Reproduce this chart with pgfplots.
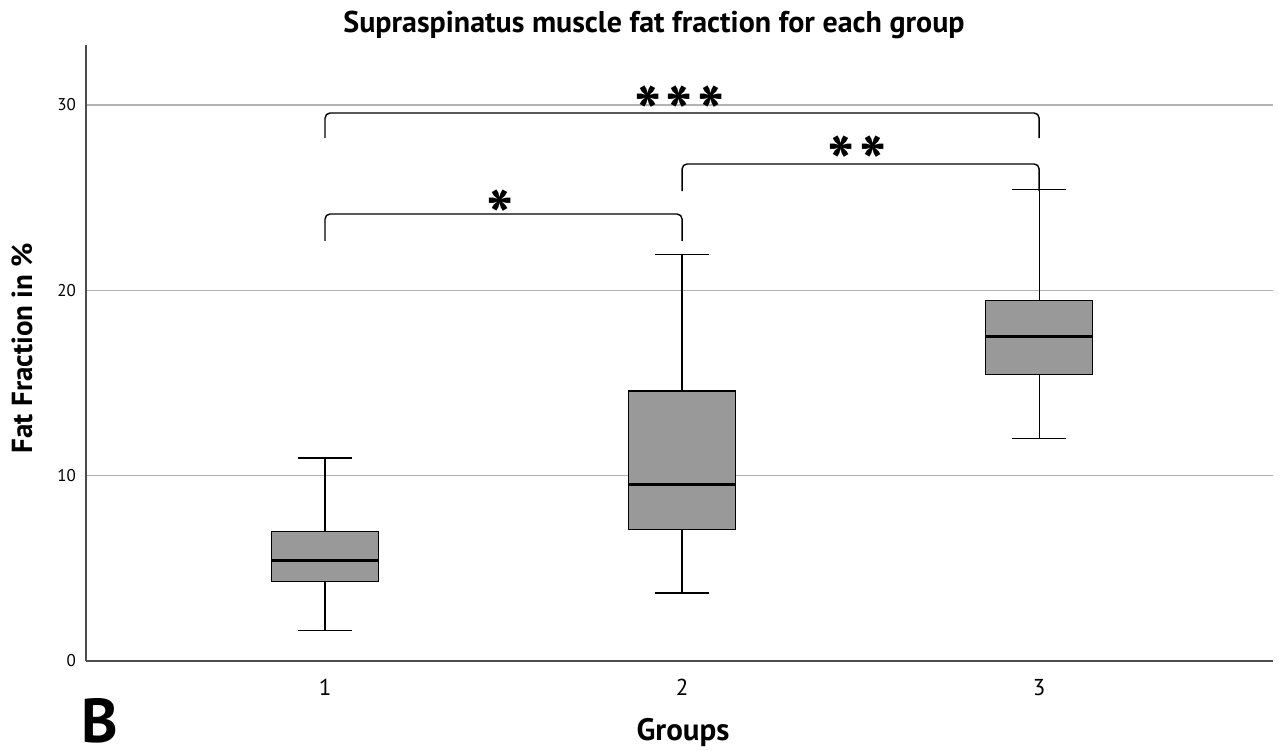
\documentclass[border=0pt]{standalone}
\usepackage{fontspec}
\setmainfont{PT Sans}
\usepackage{pgfplots}
\pgfplotsset{compat=1.18}
\usepgfplotslibrary{statistics}
\definecolor{boxgray}{RGB}{153,153,153}
\begin{document}
\begin{tikzpicture}
\begin{axis}[
  at={(43pt,44.5pt)}, anchor=south west, scale only axis,
  width=593.5pt, height=308pt,
  xmin=0.3305, xmax=3.655, ymin=0, ymax=33.24,
  axis x line=bottom, axis y line=left,
  axis line style={-, draw=black!70, line width=0.6pt},
  xtick={1,2,3}, ytick={0,10,20,30}, major tick length=0pt,
  ymajorgrids, grid style={black!30, line width=0.6pt},
  xticklabel style={font=\fontsize{11.5}{13}\selectfont, yshift=-5.5pt},
  yticklabel style={font=\fontsize{8.5}{10}\selectfont, xshift=-1.5pt},
  /pgf/number format/assume math mode=true,
  clip=false,
  boxplot/draw direction=y,
  boxplot/every median/.style={line width=1.5pt},
  boxplot/every box/.style={line width=0.7pt},
  boxplot/every whisker/.style={line width=0.6pt},
]
\addplot[draw=black, fill=boxgray, boxplot prepared={draw position=1,
  lower whisker=1.65, lower quartile=4.3, median=5.4,
  upper quartile=7.0, upper whisker=10.95,
  box extend=0.3, whisker extend=0.15}] coordinates {};
\addplot[draw=black, fill=boxgray, boxplot prepared={draw position=2,
  lower whisker=3.67, lower quartile=7.1, median=9.5,
  upper quartile=14.56, upper whisker=21.94,
  box extend=0.3, whisker extend=0.15}] coordinates {};
\addplot[draw=black, fill=boxgray, boxplot prepared={draw position=3,
  lower whisker=12.02, lower quartile=15.47, median=17.52,
  upper quartile=19.46, upper whisker=25.44,
  box extend=0.3, whisker extend=0.15}] coordinates {};

\draw[line width=0.7pt, rounded corners=2.5pt] (axis cs:1,28.22) -- (axis cs:1,29.57) -- (axis cs:3,29.57) -- (axis cs:3,28.22);
\draw[line width=0.7pt, rounded corners=2.5pt] (axis cs:2,25.36) -- (axis cs:2,26.82) -- (axis cs:3,26.82) -- (axis cs:3,25.36);
\draw[line width=0.7pt, rounded corners=2.5pt] (axis cs:1,22.67) -- (axis cs:1,24.12) -- (axis cs:2,24.12) -- (axis cs:2,22.67);

\node[anchor=north, inner sep=0pt, font=\fontsize{36}{36}\selectfont\bfseries] at (axis cs:1.993,31.08) {*\hspace{2pt}*\hspace{2pt}*};
\node[anchor=north, inner sep=0pt, font=\fontsize{36}{36}\selectfont\bfseries] at (axis cs:2.49,28.38) {*\hspace{2pt}*};
\node[anchor=north, inner sep=0pt, font=\fontsize{36}{36}\selectfont\bfseries] at (axis cs:1.49,25.42) {*};
\end{axis}
\node[font=\fontsize{15}{17}\selectfont\bfseries] at (327pt,362.5pt) {Supraspinatus muscle fat fraction for each group};
\node[font=\fontsize{15.5}{17}\selectfont\bfseries] at (341.5pt,8.5pt) {Groups};
\node[font=\fontsize{14.5}{16}\selectfont\bfseries, rotate=90] at (11pt,201pt) {Fat Fraction in \%};
\node[inner sep=0pt, font=\fontsize{31}{32}\selectfont\bfseries] at (50pt,14.5pt) {B};
\pgfresetboundingbox
\path (0,0) rectangle (639.5pt,375pt);
\end{tikzpicture}
\end{document}
